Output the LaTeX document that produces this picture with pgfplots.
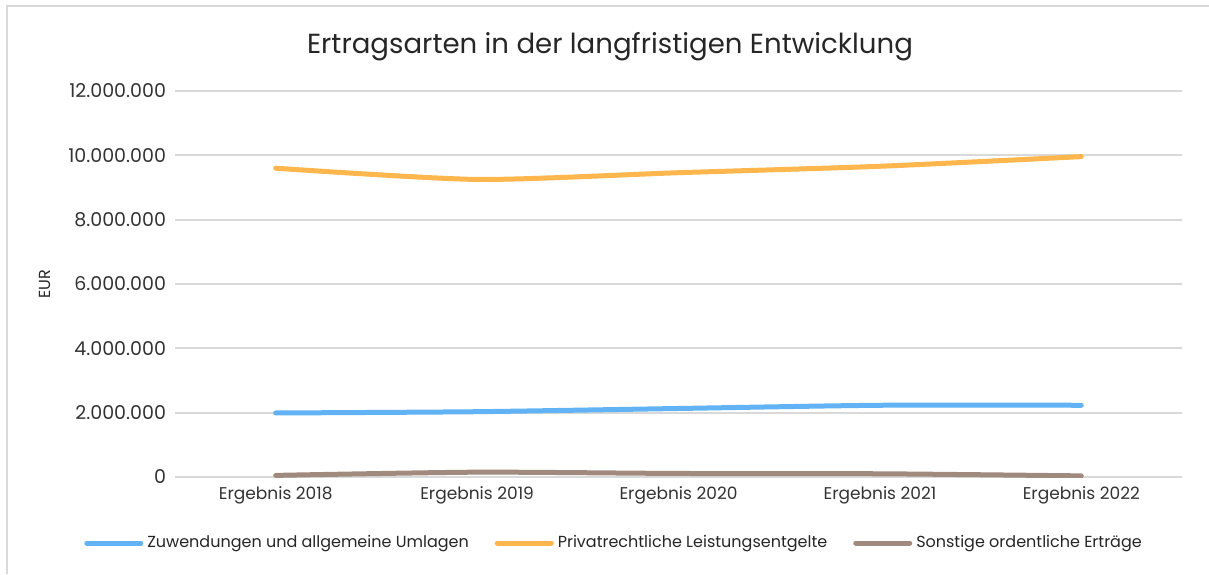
\documentclass[border=0pt]{standalone}
\usepackage{pgfplots}
\pgfplotsset{compat=1.18}
\usepackage{fontspec}
\setmainfont{Poppins}
\definecolor{cblue}{HTML}{62B3F5}
\definecolor{corange}{HTML}{FFB64D}
\definecolor{cbrown}{HTML}{A08A7E}
\definecolor{cgrid}{HTML}{D9D9D9}
\definecolor{cframe}{HTML}{D9D9D9}
\begin{document}
\begin{tikzpicture}
\path[use as bounding box] (0pt,0pt) rectangle (604.5pt,287pt);
\draw[cframe,line width=1pt] (3.5pt,0pt) -- (3.5pt,284pt) -- (604.5pt,284pt);
\node[font=\fontsize{13.8}{15}\selectfont,text=black!85] at (305pt,263.5pt) {Ertragsarten in der langfristigen Entwicklung};
\begin{axis}[
  at={(87.5pt,48.5pt)}, anchor=south west,
  scale only axis, width=503.5pt, height=193pt,
  xmin=-0.5, xmax=4.5, ymin=0, ymax=12000000,
  xtick={0,1,2,3,4},
  xticklabels={Ergebnis 2018,Ergebnis 2019,Ergebnis 2020,Ergebnis 2021,Ergebnis 2022},
  ytick={0,2000000,4000000,6000000,8000000,10000000,12000000},
  yticklabels={0,2.000.000,4.000.000,6.000.000,8.000.000,10.000.000,12.000.000},
  scaled ticks=false,
  axis line style={draw=none},
  tick style={draw=none},
  ymajorgrids, grid style={cgrid,line width=0.9pt},
  xticklabel style={font=\fontsize{8.5}{9}\selectfont,text=black!80,yshift=-1pt},
  yticklabel style={font=\fontsize{9.5}{10}\selectfont,text=black!80,xshift=-1pt},
  ylabel={EUR},
  ylabel style={at={(axis description cs:-0.129,0.5)},anchor=center,font=\fontsize{8}{9}\selectfont,text=black!85},
  legend style={at={(axis description cs:0.437,-0.171)},anchor=center,draw=none,
    legend columns=3,font=\fontsize{8}{9}\selectfont,text=black!85,
    /tikz/every even column/.append style={column sep=11pt}},
  legend image code/.code={\draw[#1,line width=2.5pt,line cap=round] (0pt,0pt) -- (27pt,0pt);},
  every axis plot/.append style={line width=2.5pt,line cap=round,line join=round,smooth,tension=0.4,mark=none},
]
\addplot[cblue] coordinates {(0,1990000) (1,2030000) (2,2130000) (3,2230000) (4,2230000)};
\addlegendentry{Zuwendungen und allgemeine Umlagen}
\addplot[corange] coordinates {(0,9600000) (1,9250000) (2,9460000) (3,9660000) (4,9960000)};
\addlegendentry{Privatrechtliche Leistungsentgelte}
\addplot[cbrown] coordinates {(0,50000) (1,150000) (2,110000) (3,100000) (4,35000)};
\addlegendentry{Sonstige ordentliche Erträge}
\end{axis}
\end{tikzpicture}
\end{document}
